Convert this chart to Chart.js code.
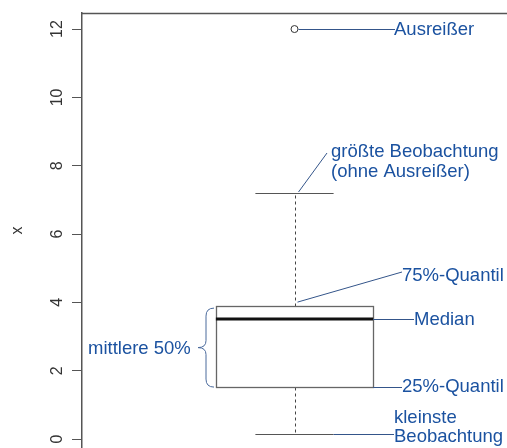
<!DOCTYPE html>
<html lang="de">
<head>
  <meta charset="UTF-8" />
  <title>Boxplot - Beschriftung</title>
  <script src="https://cdn.jsdelivr.net/npm/chart.js"></script>
  <style>
    html, body { margin: 0; padding: 0; background: #fff; }
    canvas { display: block; }
  </style>
</head>
<body>
  <canvas id="grafikBox" width="507" height="448"></canvas>

  <script>
    // Werte des Boxplots: kleinste Beob., 25%, Median, 75%, größte Beob.
    const kennwerte = [0.15, 1.52, 3.51, 3.89, 7.2];
    const ausreisser = [12];
    const yTicks = [0, 2, 4, 6, 8, 10, 12];
    const yAchse = 'x';
    const texte = {
      ausreisser: ['Ausreißer'],
      groesste: ['größte Beobachtung', '(ohne Ausreißer)'],
      q75: ['75%-Quantil'],
      median: ['Median'],
      q25: ['25%-Quantil'],
      kleinste: ['kleinste', 'Beobachtung'],
      mitte: ['mittlere 50%']
    };

    const blau = '#1b52a0';
    const linieBlau = '#34558a';
    const grau = '#555';
    const schrift = '"Liberation Sans", Arial, sans-serif';

    const boxPlugin = {
      id: 'boxPlugin',
      afterDraw(chart) {
        const ctx = chart.ctx;
        const xs = chart.scales.x;
        const ys = chart.scales.y;
        const area = chart.chartArea;
        const [minW, q1, med, q3, maxW] = kennwerte;
        const mitte = xs.getPixelForValue(0.5);
        const links = xs.getPixelForValue(0.5 - 0.185);
        const rechts = xs.getPixelForValue(0.5 + 0.185);
        const kapL = xs.getPixelForValue(0.5 - 0.092);
        const kapR = xs.getPixelForValue(0.5 + 0.092);
        const py = v => Math.round(ys.getPixelForValue(v)) + 0.5;

        ctx.save();

        // Rahmen oben
        ctx.strokeStyle = grau;
        ctx.lineWidth = 1.5;
        ctx.beginPath();
        ctx.moveTo(area.left, area.top + 0.5);
        ctx.lineTo(area.right, area.top + 0.5);
        ctx.stroke();

        // Tick-Beschriftung (gedreht wie in R)
        ctx.fillStyle = '#333';
        ctx.font = '16px ' + schrift;
        ctx.textAlign = 'center';
        ctx.textBaseline = 'middle';
        ys.ticks.forEach(t => {
          ctx.save();
          ctx.translate(58, ys.getPixelForValue(t.value));
          ctx.rotate(-Math.PI / 2);
          ctx.fillText(String(t.value), 0, 0);
          ctx.restore();
        });

        // Whisker gestrichelt
        ctx.strokeStyle = '#444';
        ctx.lineWidth = 1;
        ctx.setLineDash([3, 3]);
        ctx.beginPath();
        ctx.moveTo(Math.round(mitte) + 0.5, py(q3));
        ctx.lineTo(Math.round(mitte) + 0.5, py(maxW));
        ctx.moveTo(Math.round(mitte) + 0.5, py(q1));
        ctx.lineTo(Math.round(mitte) + 0.5, py(minW));
        ctx.stroke();
        ctx.setLineDash([]);

        // Whisker-Enden
        ctx.strokeStyle = grau;
        ctx.beginPath();
        ctx.moveTo(kapL, py(maxW));
        ctx.lineTo(kapR, py(maxW));
        ctx.moveTo(kapL, py(minW));
        ctx.lineTo(kapR, py(minW));
        ctx.stroke();

        // Box
        ctx.fillStyle = '#fff';
        ctx.fillRect(links, py(q3), rechts - links, py(q1) - py(q3));
        ctx.strokeStyle = '#666';
        ctx.lineWidth = 1.3;
        ctx.strokeRect(Math.round(links) + 0.5, py(q3), Math.round(rechts - links), py(q1) - py(q3));

        // Median
        ctx.strokeStyle = '#111';
        ctx.lineWidth = 3;
        ctx.beginPath();
        ctx.moveTo(links, ys.getPixelForValue(med));
        ctx.lineTo(rechts, ys.getPixelForValue(med));
        ctx.stroke();

        // Hinweislinien
        ctx.strokeStyle = linieBlau;
        ctx.lineWidth = 1;
        const linie = (x1, y1, x2, y2) => {
          ctx.beginPath();
          ctx.moveTo(x1, y1);
          ctx.lineTo(x2, y2);
          ctx.stroke();
        };
        linie(mitte + 4, py(ausreisser[0]), 395, py(ausreisser[0]));
        linie(mitte + 4, ys.getPixelForValue(maxW) - 1, 327, 153);
        linie(mitte + 3, ys.getPixelForValue(q3) - 4, 402, 272);
        linie(rechts, py(med), 414, py(med));
        linie(rechts, py(q1), 402, py(q1));
        linie(kapR, py(minW), 394, py(minW));

        // geschweifte Klammer "mittlere 50%"
        const oben = ys.getPixelForValue(q3) + 2;
        const unten = ys.getPixelForValue(q1);
        const mittelY = (oben + unten) / 2;
        ctx.strokeStyle = '#4a6a9c';
        ctx.beginPath();
        ctx.moveTo(214, oben);
        ctx.quadraticCurveTo(206, oben, 206, oben + 8);
        ctx.lineTo(206, mittelY - 7);
        ctx.quadraticCurveTo(206, mittelY, 198, mittelY);
        ctx.quadraticCurveTo(206, mittelY, 206, mittelY + 7);
        ctx.lineTo(206, unten - 8);
        ctx.quadraticCurveTo(206, unten, 214, unten);
        ctx.stroke();

        // Beschriftungen
        ctx.fillStyle = blau;
        ctx.font = '18.5px ' + schrift;
        ctx.textBaseline = 'alphabetic';
        ctx.textAlign = 'left';
        ctx.fillText(texte.ausreisser[0], 394, ys.getPixelForValue(ausreisser[0]) + 6);
        ctx.fillText(texte.groesste[0], 331, 157);
        ctx.fillText(texte.groesste[1], 331, 177);
        ctx.fillText(texte.q75[0], 402, 281);
        ctx.fillText(texte.median[0], 414, ys.getPixelForValue(med) + 6);
        ctx.fillText(texte.q25[0], 402, ys.getPixelForValue(q1) + 5);
        ctx.fillText(texte.kleinste[0], 394, 423);
        ctx.fillText(texte.kleinste[1], 394, 442);
        ctx.fillText(texte.mitte[0], 88, mittelY + 6);

        ctx.restore();
      }
    };

    const ctx = document.getElementById('grafikBox').getContext('2d');
    new Chart(ctx, {
      type: 'scatter',
      data: {
        datasets: [{
          label: 'Ausreißer',
          data: ausreisser.map(v => ({ x: 0.5, y: v })),
          pointRadius: 3.5,
          pointBorderWidth: 1,
          pointBorderColor: '#333',
          pointBackgroundColor: '#fff'
        }]
      },
      options: {
        responsive: false,
        animation: false,
        layout: { autoPadding: false, padding: { top: 13, left: 0, right: 0, bottom: 0 } },
        plugins: {
          legend: { display: false },
          tooltip: { enabled: false }
        },
        scales: {
          x: { type: 'linear', min: 0, max: 1, display: false },
          y: {
            min: -0.263,
            max: 12.47,
            afterBuildTicks: s => { s.ticks = yTicks.map(v => ({ value: v })); },
            afterFit: s => { s.width = 82; },
            ticks: { display: false },
            grid: { drawOnChartArea: false, drawTicks: true, tickLength: 10, color: grau, lineWidth: 1 },
            border: { display: true, color: grau, width: 1.5 },
            title: {
              display: true,
              text: yAchse,
              color: '#333',
              font: { size: 16, family: schrift },
              padding: { top: 8, bottom: 0 }
            }
          }
        }
      },
      plugins: [boxPlugin]
    });
  </script>
</body>
</html>
